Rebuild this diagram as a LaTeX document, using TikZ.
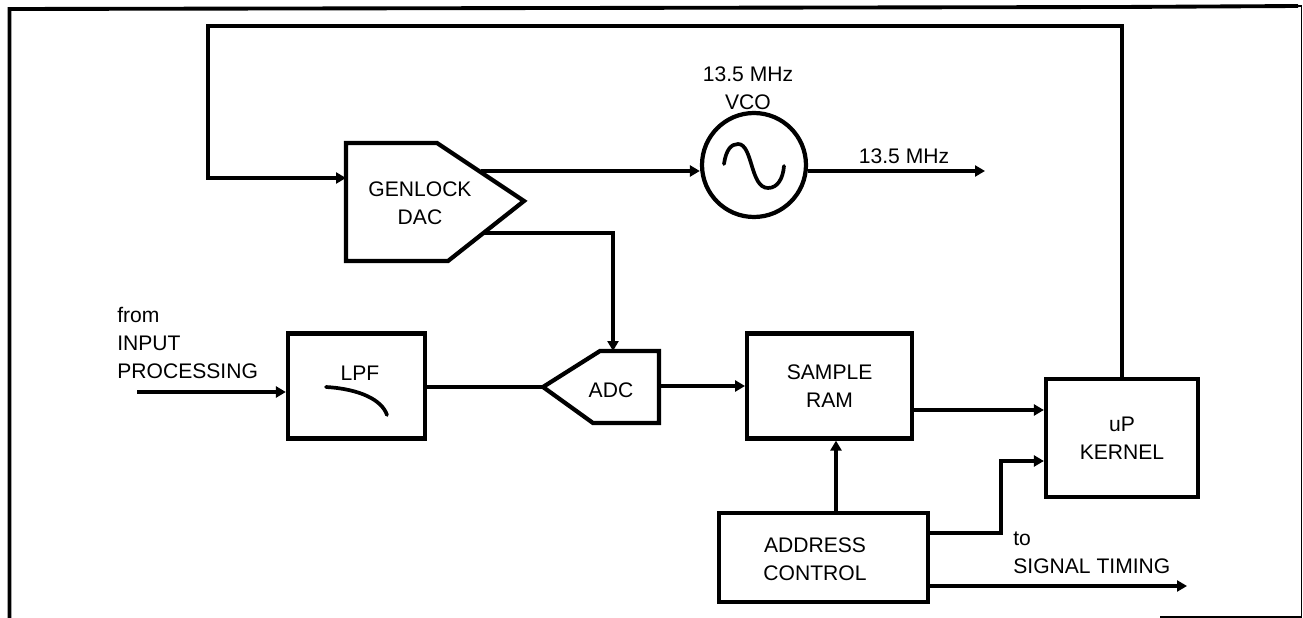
\documentclass[tikz,border=0pt]{standalone}
\usepackage{fontspec}
\setmainfont{Liberation Sans}
\usepackage{tikz}
\usetikzlibrary{arrows.meta, positioning}

\begin{document}
\begin{tikzpicture}[
  x=0.02cm, y=-0.02cm,
  font=\fontsize{12}{16}\selectfont,
  box/.style={draw, line width=2.4pt, align=center, inner sep=0pt},
  converter/.style={draw, line width=2.4pt, line join=miter},
  tag/.style={align=center, inner sep=0pt},
  sidetag/.style={align=left, anchor=west, inner sep=0pt},
  wire/.style={line width=2.1pt},
  arrow/.style={wire, -{Triangle[length=2mm, width=2.2mm]}},
  trace/.style={line width=2.1pt, line cap=round}
]
\useasboundingbox (0,0) rectangle (1303,618);
\draw[line width=2.2pt] (9.5,618) -- (9.5,9) -- (1120,7) -- (1298,6);
\draw[line width=1pt] (1298,6) -- (1301.5,6) -- (1301.5,617) -- (1160,617);

\node[box, minimum width=2.74cm, minimum height=2.1cm] (lpf) at (356.5,386) {};
\node[tag] (lpftext) at (360,373) {LPF};
\draw[trace] (326,387) .. controls (360,389) and (382,400) .. (387,415);
\node[box, minimum width=3.3cm, minimum height=2.1cm, right=6.36cm of lpf] (ram) {SAMPLE\\RAM};
\node[box, minimum width=3.04cm, minimum height=2.36cm] (kernel) at (1122,438) {uP\\KERNEL};
\node[box, minimum width=4.18cm, minimum height=1.78cm] (address) at (823.5,557.5) {};
\node[tag] (addresstext) at (815,559) {ADDRESS\\CONTROL};

\node[circle, draw, line width=2.4pt, minimum size=2.08cm, inner sep=0pt] (vco) at (754,165) {};
\draw[trace] (724,164) .. controls (726,150) and (731,144) .. (738,144)
  .. controls (753,144) and (750,188) .. (768,188)
  .. controls (778,188) and (783,178) .. (784,166);
\node[tag, above=0.02cm of vco, xshift=-0.12cm] (vcotext) {13.5 MHz\\VCO};

\coordinate (dacin) at (346,178);
\coordinate (dacup) at (481,171);
\coordinate (daclow) at (483,233);
\draw[converter] (346,143) -- (437,143) -- (524,201) -- (448,261) -- (346,261) -- cycle;
\node[tag] (dactext) at (420,203) {GENLOCK\\DAC};

\coordinate (adcin) at (543,387);
\coordinate (adcup) at (613,351);
\coordinate (adcout) at (659,386);
\draw[converter] (543,387) -- (600,351) -- (659,351) -- (659,423) -- (593,423) -- cycle;
\node[tag] (adctext) at (611,390) {ADC};

\coordinate (fromin) at (137,392);
\coordinate (clockout) at (985,171);
\coordinate (timingout) at (1187,586);
\node[sidetag] (fromtext) at (117,343) {from\\INPUT\\PROCESSING};
\node[tag] (clocktext) at (904,156) {13.5 MHz};
\node[sidetag] (timingtext) at (1013,553) {to\\SIGNAL TIMING};

\draw[arrow] (fromin) -- (fromin -| lpf.west);
\draw[wire] (lpf.east |- adcin) -- (adcin);
\draw[arrow] (adcout) -- (adcout -| ram.west);
\draw[arrow] (ram.east |- 0,410) -- (kernel.west |- 0,410);
\draw[arrow, line width=2.6pt] (address.north -| 836,0) -- (ram.south -| 836,0);
\draw[arrow] (address.east |- 0,533) -- (1001,533) -- (1001,461) -- (kernel.west |- 0,461);
\draw[arrow] (address.east |- timingout) -- (timingout);
\draw[arrow] (kernel.north) -- (1122,26) -- (208,26) -- (208,178) -- (dacin);
\draw[arrow] (dacup) -- (dacup -| vco.west);
\draw[arrow] (daclow) -- (613,233) -- (adcup);
\draw[arrow] (vco.east |- clockout) -- (clockout);
\end{tikzpicture}
\end{document}
